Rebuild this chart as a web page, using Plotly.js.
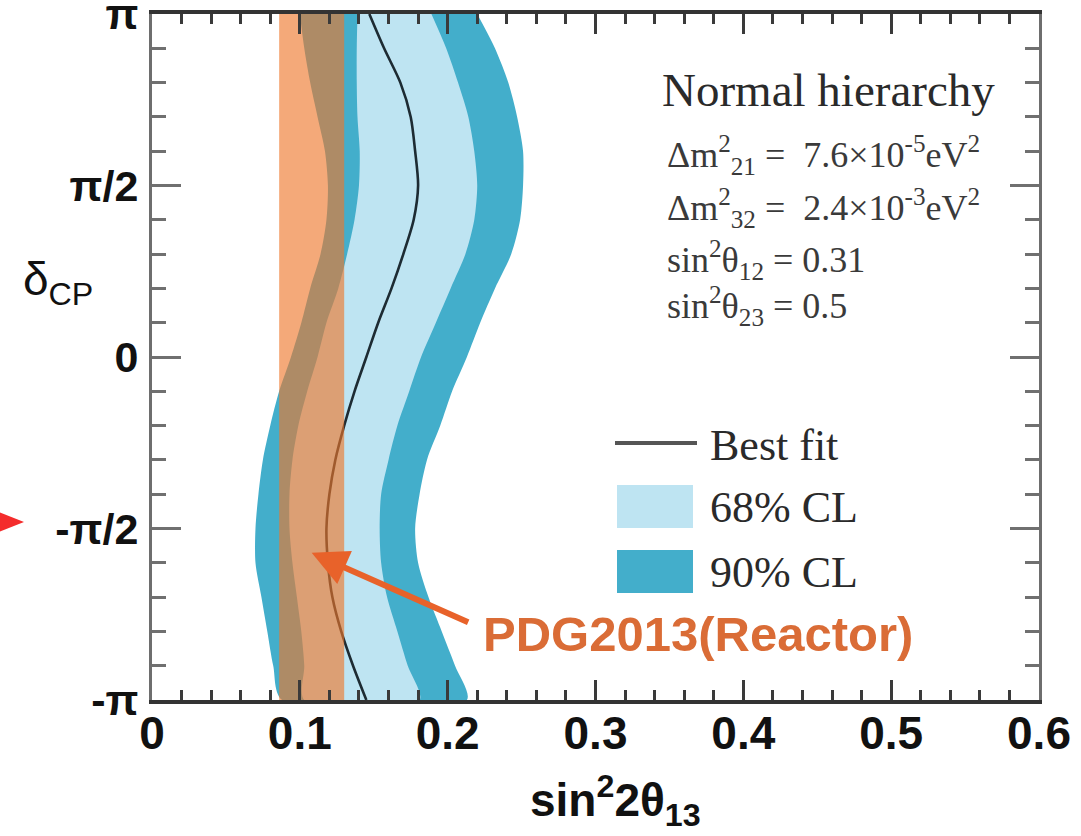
<!DOCTYPE html>
<html>
<head>
<meta charset="utf-8">
<script src="https://cdn.plot.ly/plotly-3.0.1.min.js"></script>
<style>
  html, body { margin: 0; padding: 0; background: #ffffff; }
  #chart { width: 1081px; height: 836px; }
</style>
</head>
<body>
<div id="chart"></div>
<script>
// ---- data (δCP in units of π, x = sin²2θ13) ----
const deltaOverPi = [1, 0.9, 0.8, 0.7, 0.6, 0.5, 0.4, 0.3, 0.2, 0.1, 0,
                     -0.1, -0.2, -0.3, -0.4, -0.5, -0.6, -0.7, -0.8, -0.9, -1];
const cl90Left  = [0.100,0.103,0.107,0.112,0.117,0.119,0.118,0.114,0.107,0.101,0.094,
                   0.086,0.080,0.075,0.072,0.070,0.070,0.074,0.078,0.082,0.088];
const cl68Left  = [0.139,0.1385,0.1385,0.139,0.1405,0.140,0.137,0.132,0.126,0.118,0.112,
                   0.105,0.099,0.095,0.093,0.093,0.095,0.098,0.101,0.103,0.103];
const bestFit   = [0.147,0.157,0.168,0.175,0.178,0.180,0.177,0.170,0.162,0.153,0.145,
                   0.137,0.130,0.124,0.120,0.118,0.119,0.122,0.128,0.136,0.145];
const cl68Right = [0.189,0.199,0.207,0.214,0.218,0.220,0.218,0.212,0.202,0.192,0.182,
                   0.174,0.166,0.160,0.155,0.154,0.155,0.159,0.166,0.173,0.181];
const cl90Right = [0.220,0.232,0.241,0.247,0.251,0.251,0.249,0.243,0.232,0.222,0.213,
                   0.203,0.195,0.186,0.181,0.178,0.180,0.187,0.196,0.205,0.213];
const reactorBand = [0.086, 0.130];          // PDG2013 (Reactor) sin²2θ13 range

const xTickVals = [0, 0.1, 0.2, 0.3, 0.4, 0.5, 0.6];
const xTickText = ['0', '0.1', '0.2', '0.3', '0.4', '0.5', '0.6'];
const yTickValsOverPi = [-1, -0.5, 0, 0.5, 1];
const yTickText = ['-π', '-π/2', '0', 'π/2', 'π'];

const paramLines = [
  'Δm<sup>2</sup><sub>21</sub> =  7.6×10<sup>-5</sup>eV<sup>2</sup>',
  'Δm<sup>2</sup><sub>32</sub> =  2.4×10<sup>-3</sup>eV<sup>2</sup>',
  'sin<sup>2</sup>θ<sub>12</sub> = 0.31',
  'sin<sup>2</sup>θ<sub>23</sub> = 0.5'
];
const legendLabels = ['Best fit', '68% CL', '90% CL'];

// ---- styling ----
const C90 = '#43AECB';
const C68 = '#BEE4F2';
const CFIT = '#1d2b33';
const CREACTOR = 'rgba(238,118,42,0.63)';
const SANS = '"Liberation Sans", Arial, Helvetica, sans-serif';
const SERIF = '"Liberation Serif", "Times New Roman", serif';

const PI = Math.PI;
const delta = deltaOverPi.map(f => f * PI);
const loop = (left, right) => left.concat(right.slice().reverse());
const deltaLoop = delta.concat(delta.slice().reverse());

const traces = [
  { name: '90% CL', x: loop(cl90Left, cl90Right), y: deltaLoop, type: 'scatter', mode: 'lines',
    fill: 'toself', fillcolor: C90, line: { width: 0, shape: 'spline', smoothing: 0.8, color: C90 },
    hoverinfo: 'skip', showlegend: false },
  { name: '68% CL', x: loop(cl68Left, cl68Right), y: deltaLoop, type: 'scatter', mode: 'lines',
    fill: 'toself', fillcolor: C68, line: { width: 0, shape: 'spline', smoothing: 0.8, color: C68 },
    hoverinfo: 'skip', showlegend: false },
  { name: 'Best fit', x: bestFit, y: delta, type: 'scatter', mode: 'lines',
    line: { width: 2.6, color: CFIT, shape: 'spline', smoothing: 0.8 },
    hoverinfo: 'skip', showlegend: false },
  { name: 'PDG2013(Reactor)',
    x: [reactorBand[0], reactorBand[1], reactorBand[1], reactorBand[0], reactorBand[0]],
    y: [-PI, -PI, PI, PI, -PI], type: 'scatter', mode: 'lines',
    fill: 'toself', fillcolor: CREACTOR, line: { width: 0, color: CREACTOR },
    hoverinfo: 'skip', showlegend: false }
];

// helpers for placing decoration in paper coordinates
const L = 152, R = 42, T = 14, B = 136, W = 1081, H = 836;
const px = v => (v - L) / (W - L - R);
const py = v => (H - B - v) / (H - T - B);

const note = (text, x, y, font, xanchor) => ({
  text, xref: 'paper', yref: 'paper', x: px(x), y: py(y),
  xanchor: xanchor || 'center', yanchor: 'middle', showarrow: false, font
});

const annotations = [
  note('δ<sub>CP</sub>', 58, 282, { family: SANS, size: 46, color: '#111' }),
  note('sin<sup>2</sup>2θ<sub>13</sub>', 615, 800, { family: SANS, size: 46, color: '#111', weight: 'bold' }),
  note('Normal hierarchy', 660, 90, { family: SERIF, size: 47, color: '#2a2a2a' }, 'left'),
  // arrow pointing at the reactor band
  { text: '', x: 0.108, y: -0.571 * PI, xref: 'x', yref: 'y', ax: 158, ay: 70,
    showarrow: true, arrowhead: 2, arrowsize: 1.2, arrowwidth: 6, arrowcolor: '#E8622A', standoff: 0 },
  note('PDG2013(Reactor)', 481, 634, { family: SANS, size: 49, color: '#DA6C36', weight: 'bold' }, 'left')
];
const paramY = [155, 208, 260, 306];
paramLines.forEach((t, i) => annotations.push(
  note(t, 665, paramY[i], { family: SERIF, size: 36, color: '#3a3a3a' }, 'left')));
const legendY = [445, 507, 572];
legendLabels.forEach((t, i) => annotations.push(
  note(t, 708, legendY[i], { family: SERIF, size: 44, color: '#2a2a2a' }, 'left')));

const shapes = [
  { type: 'line', xref: 'paper', yref: 'paper', x0: px(615), x1: px(697), y0: py(443), y1: py(443),
    line: { color: '#555', width: 4 } },
  { type: 'rect', xref: 'paper', yref: 'paper', x0: px(617), x1: px(693), y0: py(528), y1: py(485),
    fillcolor: C68, line: { width: 0 } },
  { type: 'rect', xref: 'paper', yref: 'paper', x0: px(617), x1: px(693), y0: py(593), y1: py(550),
    fillcolor: C90, line: { width: 0 } },
  // red marker at the left edge
  { type: 'path', xref: 'paper', yref: 'paper',
    path: `M ${px(-4)},${py(511)} L ${px(24)},${py(522)} L ${px(-4)},${py(533)} Z`,
    fillcolor: '#F42C2C', line: { width: 0 } }
];

const layout = {
  width: W, height: H,
  margin: { l: L, r: R, t: T, b: B, pad: 0 },
  paper_bgcolor: '#ffffff', plot_bgcolor: '#ffffff',
  showlegend: false,
  xaxis: {
    range: [0, 0.6], tickmode: 'array', tickvals: xTickVals, ticktext: xTickText,
    ticks: 'inside', ticklen: 20, tickwidth: 3, tickcolor: '#3a3a3a',
    minor: { dtick: 0.02, tick0: 0, ticks: 'inside', ticklen: 10, tickwidth: 3, tickcolor: '#3a3a3a' },
    showline: true, linecolor: '#333', linewidth: 4, mirror: 'ticks',
    showgrid: false, zeroline: false, ticklabelstandoff: -10, ticklabeloverflow: 'allow',
    tickfont: { family: SANS, size: 46, color: '#111', weight: 'bold' }
  },
  yaxis: {
    range: [-PI, PI], tickmode: 'array', tickvals: yTickValsOverPi.map(v => v * PI), ticktext: yTickText,
    ticks: 'inside', ticklen: 29, tickwidth: 3, tickcolor: '#707070',
    minor: { dtick: PI / 10, tick0: 0, ticks: 'inside', ticklen: 14, tickwidth: 3, tickcolor: '#707070' },
    showline: true, linecolor: '#6e6e6e', linewidth: 3, mirror: 'ticks',
    showgrid: false, zeroline: false, ticklabelstandoff: 2, ticklabeloverflow: 'allow',
    tickfont: { family: SANS, size: 43, color: '#111', weight: 'bold' }
  },
  annotations: annotations,
  shapes: shapes
};

Plotly.newPlot('chart', traces, layout, { staticPlot: true, displayModeBar: false });
</script>
</body>
</html>
